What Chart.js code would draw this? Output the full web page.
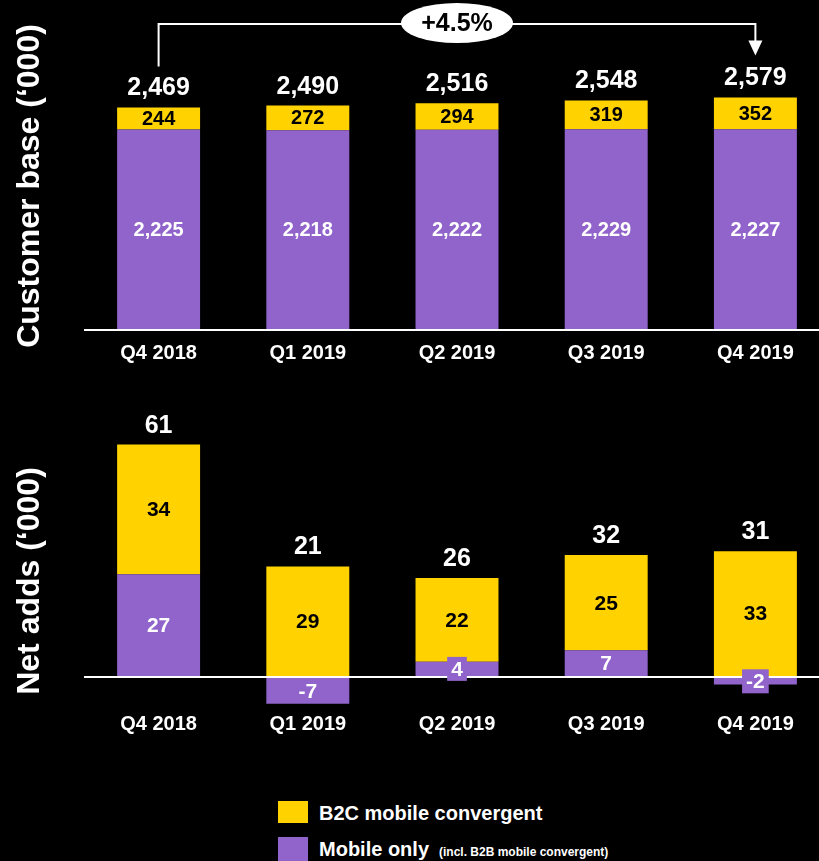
<!DOCTYPE html>
<html>
<head>
<meta charset="utf-8">
<script src="https://cdn.jsdelivr.net/npm/chart.js@4.4.0/dist/chart.umd.min.js"></script>
<style>
  html, body { margin: 0; padding: 0; background: #000; width: 819px; height: 861px; overflow: hidden; }
  body { position: relative; font-family: "Liberation Sans", Arial, sans-serif; color: #fff; }
  canvas { position: absolute; left: 0; }
  #baseChart { top: 0; }
  #addsChart { top: 390px; }
  .key { position: absolute; left: 278px; width: 30px; }
  .key-text { position: absolute; left: 319px; font-weight: bold; white-space: nowrap; line-height: 1; }
  .key-text small { font-size: 12px; margin-left: 10px; }
</style>
</head>
<body>
<canvas id="baseChart" width="830" height="370"></canvas>
<canvas id="addsChart" width="830" height="351"></canvas>

<div class="key" style="top:801px;height:22px;background:#FFD200"></div>
<div class="key-text" style="top:803px;font-size:20px">B2C mobile convergent</div>
<div class="key" style="top:837px;height:24px;background:#9164CC"></div>
<div class="key-text" style="top:839px;font-size:20px">Mobile only<small>(incl. B2B mobile convergent)</small></div>

<script>
document.addEventListener('DOMContentLoaded', () => {

    // --- Data ---
    const quarters = ['Q4 2018', 'Q1 2019', 'Q2 2019', 'Q3 2019', 'Q4 2019'];

    const baseMobileOnly = [2225, 2218, 2222, 2229, 2227];
    const baseB2C = [244, 272, 294, 319, 352];
    const baseTotals = [2469, 2490, 2516, 2548, 2579];

    const addsMobileOnly = [27, -7, 4, 7, -2];
    const addsB2C = [34, 29, 22, 25, 33];
    const addsTotals = [61, 21, 26, 32, 31];

    const growthLabel = '+4.5%';

    const FONT = '"Liberation Sans", Arial, sans-serif';
    const YELLOW = '#FFD200';
    const PURPLE = '#9164CC';

    const fmt = v => v.toLocaleString('en-US');

    // Segment values inside the bars + stack totals above them
    const valueLabels = {
        id: 'valueLabels',
        afterDatasetsDraw(chart, args, opts) {
            const ctx = chart.ctx;
            ctx.save();
            ctx.textAlign = 'center';
            ctx.textBaseline = 'middle';
            chart.data.datasets.forEach((ds, di) => {
                const meta = chart.getDatasetMeta(di);
                meta.data.forEach((bar, i) => {
                    const text = fmt(ds.data[i]);
                    const y = (bar.y + bar.base) / 2;
                    ctx.font = `bold ${opts.size}px ${FONT}`;
                    if (opts.boxed && ds.backgroundColor === PURPLE) {
                        const w = ctx.measureText(text).width + 8;
                        ctx.fillStyle = PURPLE;
                        ctx.fillRect(bar.x - w / 2, y - 12, w, 24);
                    }
                    ctx.fillStyle = ds.backgroundColor === YELLOW ? '#000' : '#fff';
                    ctx.fillText(text, bar.x, y + 1);
                });
            });
            // totals sit above the yellow (always positive) segment
            const topMeta = chart.getDatasetMeta(1);
            ctx.font = `bold ${opts.totalSize}px ${FONT}`;
            ctx.fillStyle = '#fff';
            opts.totals.forEach((t, i) => {
                const bar = topMeta.data[i];
                ctx.fillText(fmt(t), bar.x, bar.y - 19);
            });
            ctx.restore();
        }
    };

    // Growth bracket from first to last quarter
    const growthBracket = {
        id: 'growthBracket',
        afterDraw(chart) {
            const ctx = chart.ctx;
            const xs = chart.scales.x;
            const bars = chart.getDatasetMeta(1).data;
            const x0 = xs.getPixelForValue(0);
            const x1 = xs.getPixelForValue(quarters.length - 1);
            const yTop = 24;
            const yLeft = bars[0].y - 41;
            const yTip = bars[bars.length - 1].y - 42;

            ctx.save();
            ctx.strokeStyle = '#fff';
            ctx.fillStyle = '#fff';
            ctx.lineWidth = 2;
            ctx.beginPath();
            ctx.moveTo(x0, yLeft);
            ctx.lineTo(x0, yTop);
            ctx.lineTo(x1, yTop);
            ctx.lineTo(x1, yTip - 14);
            ctx.stroke();

            ctx.beginPath();
            ctx.moveTo(x1 - 7, yTip - 15);
            ctx.lineTo(x1 + 7, yTip - 15);
            ctx.lineTo(x1, yTip);
            ctx.closePath();
            ctx.fill();

            const cx = (x0 + x1) / 2;
            ctx.beginPath();
            ctx.ellipse(cx, yTop - 1, 56, 20, 0, 0, Math.PI * 2);
            ctx.fill();

            ctx.fillStyle = '#000';
            ctx.font = `bold 25px ${FONT}`;
            ctx.textAlign = 'center';
            ctx.textBaseline = 'middle';
            ctx.fillText(growthLabel, cx, yTop);
            ctx.restore();
        }
    };

    function makeOptions(title, yMin, yMax, padTop, labelOpts) {
        return {
            responsive: false,
            animation: false,
            layout: { padding: { top: padTop, left: 0, right: 0, bottom: 0 } },
            datasets: { bar: { categoryPercentage: 1, barPercentage: 0.556, clip: false } },
            scales: {
                x: {
                    stacked: true,
                    grid: { display: false, drawTicks: false },
                    border: { display: false },
                    ticks: {
                        color: '#fff',
                        font: { family: FONT, size: 20, weight: 'bold' },
                        padding: 11,
                        maxRotation: 0,
                        autoSkip: false
                    },
                    afterFit: s => { s.height = 40; }
                },
                y: {
                    stacked: true,
                    min: yMin,
                    max: yMax,
                    ticks: { display: false },
                    border: { display: false },
                    grid: { color: '#fff', lineWidth: 2, drawTicks: false },
                    afterBuildTicks: s => { s.ticks = [{ value: 0 }]; }, // only the zero line
                    afterFit: s => { s.width = 84; },
                    title: {
                        display: true,
                        text: title,
                        color: '#fff',
                        font: { family: FONT, size: 32, weight: 'bold' },
                        padding: { top: 11, bottom: 0 }
                    }
                }
            },
            plugins: {
                legend: { display: false },
                tooltip: { enabled: false },
                valueLabels: labelOpts
            }
        };
    }

    // Customer base chart
    new Chart(document.getElementById('baseChart'), {
        type: 'bar',
        data: {
            labels: quarters,
            datasets: [
                { label: 'Mobile only', data: baseMobileOnly, backgroundColor: PURPLE },
                { label: 'B2C mobile convergent', data: baseB2C, backgroundColor: YELLOW }
            ]
        },
        options: makeOptions('Customer base (\u2018000)', 0, 3196, 42,
            { size: 20, totalSize: 25, totals: baseTotals, boxed: false }),
        plugins: [valueLabels, growthBracket]
    });

    // Net adds chart
    new Chart(document.getElementById('addsChart'), {
        type: 'bar',
        data: {
            labels: quarters,
            datasets: [
                { label: 'Mobile only', data: addsMobileOnly, backgroundColor: PURPLE },
                { label: 'B2C mobile convergent', data: addsB2C, backgroundColor: YELLOW }
            ]
        },
        options: makeOptions('Net adds (\u2018000)', -6.3, 56.7, 71,
            { size: 21, totalSize: 25, totals: addsTotals, boxed: true }),
        plugins: [valueLabels]
    });
});
</script>
</body>
</html>
